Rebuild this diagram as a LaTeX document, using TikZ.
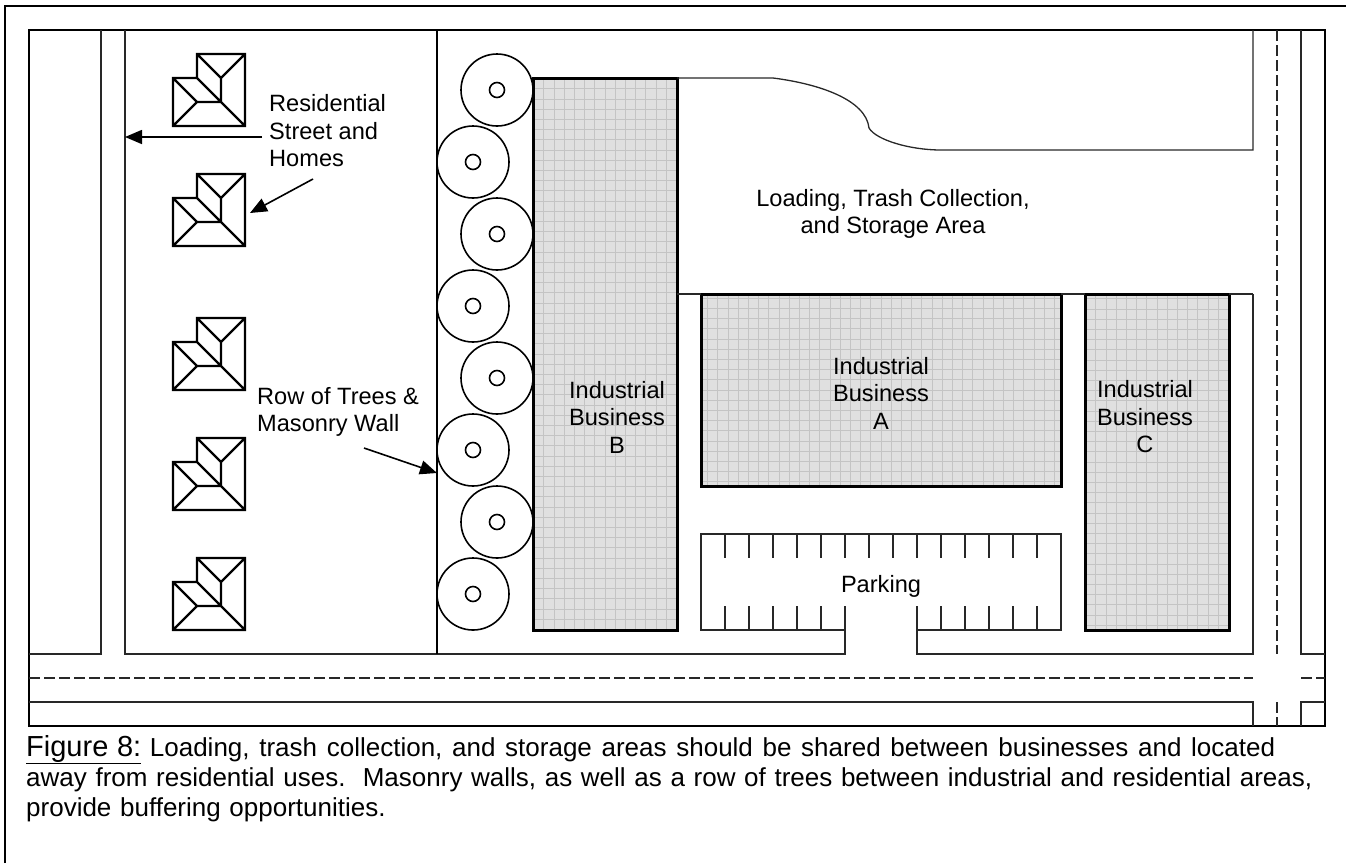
\documentclass[tikz,border=0pt]{standalone}
\usepackage{fontspec}
\setmainfont{Liberation Sans}
\usetikzlibrary{arrows.meta}
\definecolor{bldclr}{RGB}{224,224,224}
\definecolor{gridclr}{RGB}{196,196,196}
\definecolor{roadclr}{RGB}{40,40,40}
\begin{document}
\begin{tikzpicture}[
    x=1pt, y=-1pt,
    >={Triangle[length=17pt, width=14pt]},
    lbl/.style    ={align=center, inner sep=0pt, font=\fontsize{23.6}{27.5}\selectfont},
    capt/.style   ={align=left, inner sep=0pt, anchor=north west, text width=1310pt,
                    font=\fontsize{26}{30}\selectfont},
    frame/.style  ={line width=2.6pt},
    road/.style   ={line width=1.3pt, roadclr},
    centre/.style ={road, dash pattern=on 11pt off 4pt},
    wall/.style   ={line width=2.6pt},
    pointer/.style={->, line width=1.6pt},
    roof/.style   ={line width=2.4pt, line join=miter},
    tree/.style   ={draw, circle, line width=1.6pt, minimum size=72pt, inner sep=0pt},
    trunk/.style  ={draw, circle, line width=1.6pt, minimum size=15pt, inner sep=0pt},
    bld/.style    ={draw, line width=3pt, fill=bldclr, inner sep=0pt, outer sep=0pt,
                    path picture={\draw[gridclr, line width=0.7pt]
                      (-400,-400) grid[step=10.2pt] (400,400);}},
    house/.pic    ={\draw[roof] (24,0) -- (72,0) -- (72,72) -- (0,72) -- (0,24) -- (24,24) -- cycle
                      (24,0) -- (48,24) -- (72,0)
                      (48,24) -- (48,48)
                      (24,24) -- (72,72)
                      (0,24) -- (24,48) -- (0,72)
                      (24,48) -- (48,48);},
]
\useasboundingbox (0,0) rectangle (1346,863);

% =============== Page and map frame ===============
\draw[frame] (5,863) -- (5,6) -- (1346,6);
\draw[frame] (29,30) rectangle (1325,726);

% =============== Streets ===============
\draw[road] (101,30) -- (101,654) -- (29,654);
\draw[road] (125,30) -- (125,654) -- (845,654) -- (845,606);
\draw[road] (917,606) -- (917,654) -- (1253,654) -- (1253,294);
\draw[road] (1301,30) -- (1301,654) -- (1325,654);
\draw[road] (29,702) -- (1253,702) -- (1253,726);
\draw[road] (1325,702) -- (1301,702) -- (1301,726);
\draw[centre] (29,678) -- (1253,678);
\draw[centre] (1301,678) -- (1325,678);
\draw[centre] (1277,30) -- (1277,654);
\draw[centre] (1277,702) -- (1277,726);

% =============== Masonry wall ===============
\draw[wall] (437,30) -- (437,654);

% =============== Homes ===============
\foreach \y in {54, 174, 318, 438, 558}{%
  \pic at (173,\y) {house};
}

% =============== Row of trees ===============
\foreach \n/\x/\y in {1/497/90, 2/473/162, 3/497/234, 4/473/306,
                      5/497/378, 6/473/450, 7/497/522, 8/473/594}{%
  \node[tree]  (tree\n)  at (\x,\y) {};
  \node[trunk] (trunk\n) at (\x,\y) {};
}

% =============== Businesses ===============
\node[bld, minimum width=144pt, minimum height=552pt] (bizB) at (605,354) {};
\node[bld, minimum width=360pt, minimum height=192pt] (bizA) at (881,390) {};
\node[bld, minimum width=144pt, minimum height=336pt] (bizC) at (1157,462) {};
\node[lbl] (lblB) at (617,417) {Industrial\\Business\\B};
\node[lbl] (lblA) at (881,393) {Industrial\\Business\\A};
\node[lbl] (lblC) at (1145,417) {Industrial\\Business\\C};

% =============== Loading area edge ===============
\draw[road] (bizB.north east) -- (773,78)
  .. controls (820,84) and (866,100) .. (869,128)
  .. controls (876,140) and (910,150) .. (941,150) -- (1253,150) -- (1253,30);
\draw[road] (bizB.east |- bizA.north) -- (bizA.north west);
\draw[road] (bizA.north east) -- (bizC.north west);
\draw[road] (bizC.north east) -- (1253,294);
\node[lbl] (lblLoad) at (893,214) {Loading, Trash Collection,\\and Storage Area};

% =============== Parking ===============
\draw[road] (845,630) -- (701,630) -- (701,534) -- (1061,534) -- (1061,630) -- (917,630);
\foreach \x in {725, 749, ..., 1037}{%
  \draw[road] (\x,534) -- (\x,558);
}
\foreach \x in {725, 749, ..., 845, 917, 941, ..., 1037}{%
  \draw[road] (\x,606) -- (\x,630);
}
\node[lbl] (lblPark) at (881,586) {Parking};

% =============== Callouts ===============
\node[lbl, align=left, anchor=west] (lblHomes) at (269,131) {Residential\\Street and\\Homes};
\node[lbl, align=left, anchor=west] (lblWall)  at (257,412) {Row of Trees \&\\Masonry Wall};
\coordinate (homesStart) at (262,137);
\coordinate (homesTail)  at (313,179);
\coordinate (wallTail)   at (364,448);
\coordinate (streetTip)  at (125,137);
\coordinate (homeTip)    at (250,213);
\coordinate (wallTip)    at (437,473);
\draw[pointer] (homesStart) -- (streetTip);
\draw[pointer] (homesTail)  -- (homeTip);
\draw[pointer] (wallTail)   -- (wallTip);

% =============== Caption ===============
\node[capt] (capt) at (26,735)
  {{\fontsize{29}{30}\selectfont\underline{Figure 8:}} {\spaceskip=9.7pt Loading, trash collection, and storage areas should be shared between businesses and located}\\
   away from residential uses.\ \ Masonry walls, as well as a row of trees between industrial and residential areas,\\
   provide buffering opportunities.};
\end{tikzpicture}
\end{document}
